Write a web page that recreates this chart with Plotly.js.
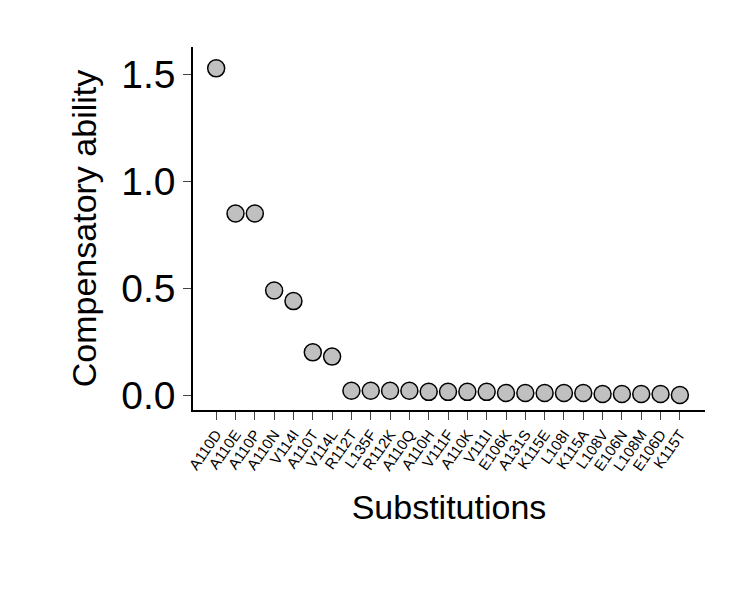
<!DOCTYPE html>
<html><head><script src="https://cdn.plot.ly/plotly-3.0.1.min.js"></script></head>
<body style="margin:0"><div id="plot" style="width:750px;height:600px"></div>
<script>
const substitutions = ["A110D","A110E","A110P","A110N","V114I","A110T","V114L","R112T","L135F","R112K","A110Q","A110H","V111F","A110K","V111I","E106K","A131S","K115E","L108I","K115A","L108V","E106N","L108M","E106D","K115T"];
const ability = [1.53,0.85,0.85,0.49,0.44,0.20,0.18,0.02,0.02,0.02,0.02,0.015,0.015,0.015,0.015,0.01,0.01,0.01,0.01,0.01,0.005,0.005,0.005,0.005,0.0];

const x = substitutions.map((_, i) => i);
Plotly.newPlot("plot", [{
  x: x, y: ability, type: "scatter", mode: "markers",
  marker: {size: 17, color: "#c0c0c0", line: {color: "black", width: 1.5}}
}], {
  width: 750, height: 600,
  margin: {l: 193, r: 45, t: 47, b: 190},
  plot_bgcolor: "white", paper_bgcolor: "white",
  font: {family: "Liberation Sans, Arial", color: "black"},
  showlegend: false,
  xaxis: {
    range: [-1.2, substitutions.length - 1 + 1.3], tickvals: x, ticktext: substitutions,
    tickangle: -55, tickfont: {size: 15}, ticks: "outside", ticklen: 8, showgrid: false, zeroline: false,
    showline: true, linecolor: "black", linewidth: 1.5,
    title: {text: "Substitutions", font: {size: 34}, standoff: 22}
  },
  yaxis: {
    range: [-0.07, 1.63], tickvals: [0, 0.5, 1, 1.5], ticktext: ["0.0","0.5","1.0","1.5"],
    tickfont: {size: 39}, ticks: "outside", ticklen: 8, showgrid: false, zeroline: false,
    showline: true, linecolor: "black", linewidth: 1.5,
    title: {text: "Compensatory ability", font: {size: 34}, standoff: 14}
  }
}, {displayModeBar: false});
</script></body></html>
